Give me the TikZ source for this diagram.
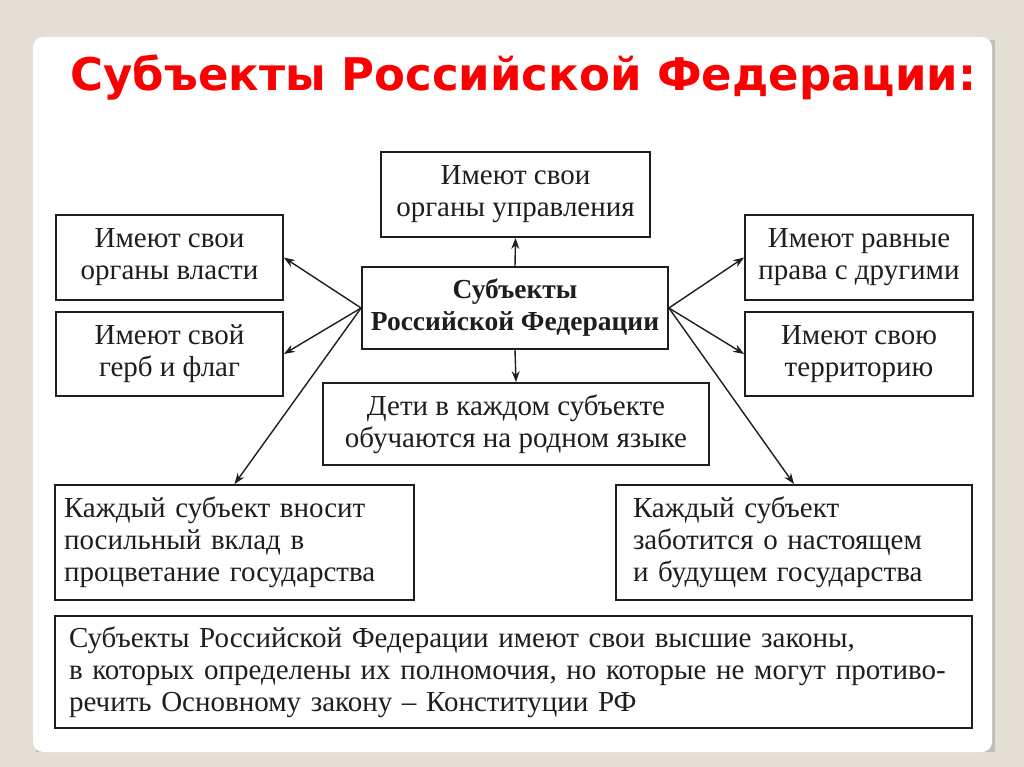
\documentclass[tikz,border=0pt]{standalone}
\usepackage{fontspec}
\setmainfont{Liberation Serif}
\newfontfamily\titlefont{DejaVu Sans}
\usetikzlibrary{positioning,arrows.meta}
\definecolor{rfbeige}{RGB}{228,223,212}
\definecolor{rfred}{RGB}{250,0,0}
\definecolor{rfink}{RGB}{30,30,30}

\begin{document}
\begin{tikzpicture}[x=1pt,y=-1pt,
  box/.style={draw=rfink, line width=1.8pt, fill=white, text=rfink, align=center,
    inner sep=0pt, font=\fontsize{29}{32}\selectfont},
  textbox/.style={box, align=left, inner xsep=#1},
  arr/.style={draw=rfink, line width=1.4pt, -{Stealth[length=11pt,width=8pt]}}]
  \useasboundingbox (0,0) rectangle (1024,767);
  % slide background and white card
  \fill[rfbeige] (0,0) rectangle (1024,767);
  \fill[black!25] (36,40) rectangle (995,752);
  \fill[white, rounded corners=10pt] (33,37) rectangle (992,752);
  \node[anchor=base west, text=rfred, font=\titlefont\bfseries\fontsize{45}{50}\selectfont]
    (title) at (67,91) {Субъекты Российской Федерации:};

  % centre of the scheme
  \node[box, font=\bfseries\fontsize{27.5}{32}\selectfont, minimum width=306pt, minimum height=82pt]
    (subj) at (515,308) {Субъекты\\Российской Федерации};
  % upper and lower boxes
  \node[box, minimum width=269pt, minimum height=85pt] (uprav) at (515.5,194.5)
    {Имеют свои\\органы управления};
  \node[box, minimum width=386pt, minimum height=82pt] (deti) at (516,424)
    {Дети в каждом субъекте\\обучаются на родном языке};
  % left column
  \node[box, minimum width=227pt, minimum height=85pt] (vlast) at (169.5,257.5)
    {Имеют свои\\органы власти};
  \node[box, minimum width=227pt, minimum height=84pt] (gerb) at (169.5,354)
    {Имеют свой\\герб и флаг};
  % right column
  \node[box, minimum width=228pt, minimum height=85pt] (prava) at (859,257.5)
    {Имеют равные\\права с другими};
  \node[box, minimum width=228pt, minimum height=84pt] (terr) at (859,354)
    {Имеют свою\\территорию};
  % bottom row
  \node[textbox=9pt, text width=341pt, minimum height=115pt] (vklad) at (234.5,542.5)
    {Каждый субъект вносит\\посильный вклад в\\процветание государства};
  \node[textbox=17pt, text width=322pt, minimum height=115pt] (zabota) at (794,542.5)
    {Каждый субъект\\заботится о настоящем\\и будущем государства};
  \node[textbox=14pt, text width=889pt, minimum height=112pt] (zakon) at (513.5,672)
    {Субъекты Российской Федерации имеют свои высшие законы,\\
     в которых определены их полномочия, но которые не могут противо-\\
     речить Основному закону -- Конституции РФ};

  % arrows from the centre
  \draw[arr] (subj.north) -- (uprav.south);
  \draw[arr] (subj.south) -- (deti.north);
  \draw[arr] (subj.west) -- (vlast.east);
  \draw[arr] (subj.west) -- (gerb.east);
  \draw[arr] (subj.west) -- (vklad.north);
  \draw[arr] (subj.east) -- (prava.west);
  \draw[arr] (subj.east) -- (terr.west);
  \draw[arr] (subj.east) -- (zabota.north);
\end{tikzpicture}
\end{document}
